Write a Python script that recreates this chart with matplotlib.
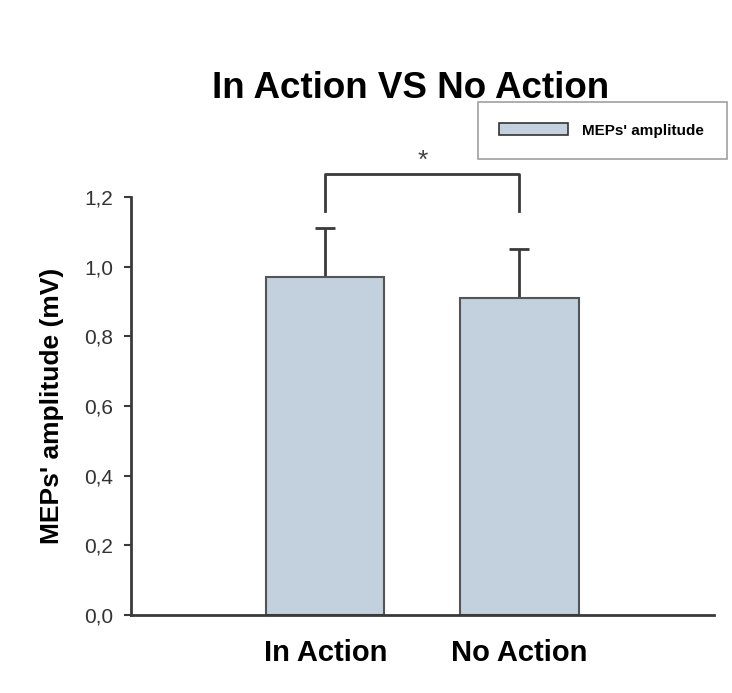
import numpy as np
import matplotlib
matplotlib.use('Agg')
from matplotlib import pyplot as plt
from matplotlib.patches import Patch

# Mean MEP amplitude per condition and its standard error
conditions = ['In Action', 'No Action']
amplitude = [0.97, 0.91]
amplitude_err = [0.14, 0.14]
yticks = [0.0, 0.2, 0.4, 0.6, 0.8, 1.0, 1.2]
sig_y = 1.265   # height of the significance bracket
sig_leg = 1.16  # lower end of the bracket legs

plt.rcParams['font.family'] = ['Liberation Sans', 'DejaVu Sans']
bar_color = '#c2d1dd'
line_color = '#3a3a3a'

fig = plt.figure(figsize=(7.32, 6.93), dpi=100)
ax = fig.add_axes([0.179, 0.1126, 0.796, 0.603])

x = np.arange(len(conditions))
ax.bar(x, amplitude, width=0.61, color=bar_color, edgecolor='#555555', linewidth=1.5, zorder=2)
ax.errorbar(x, amplitude, yerr=[np.zeros(len(amplitude)), amplitude_err], fmt='none',
            ecolor=line_color, elinewidth=2, capsize=7, capthick=2, zorder=1)

ax.set_xlim(-1.0, 2.0)
ax.set_ylim(0, 1.2)
ax.set_yticks(yticks)
ax.set_yticklabels(['{:.1f}'.format(v).replace('.', ',') for v in yticks], fontsize=15, color='#333333')
ax.set_xticks(x)
ax.set_xticklabels(conditions, fontsize=21, fontweight='bold')
ax.tick_params(axis='x', length=0, pad=17)
ax.tick_params(axis='y', direction='out', length=5, width=1.5, color=line_color, pad=8)

for side in ['top', 'right']:
    ax.spines[side].set_visible(False)
for side in ['left', 'bottom']:
    ax.spines[side].set_linewidth(2)
    ax.spines[side].set_color(line_color)

ax.set_ylabel("MEPs' amplitude (mV)", fontsize=19, fontweight='bold', labelpad=14)
ax.set_title('In Action VS No Action', fontsize=26.5, fontweight='bold', x=0.479, y=1.218)

# significance bracket
ax.plot([x[0], x[0], x[1], x[1]], [sig_leg, sig_y, sig_y, sig_leg], color=line_color,
        linewidth=2, clip_on=False)
ax.text((x[0] + x[1]) / 2, sig_y + 0.005, '*', ha='center', va='bottom', fontsize=19, color='#444444')

handle = Patch(facecolor=bar_color, edgecolor='#333333', linewidth=1.2)
leg = fig.legend([handle], ["MEPs' amplitude"], loc='upper left', bbox_to_anchor=(0.653, 0.772, 0.34, 0.081),
                 mode='expand', fancybox=False, edgecolor='#888888', prop={'weight': 'bold', 'size': 11},
                 handlelength=4.5, handleheight=0.85, borderpad=1.4, handletextpad=0.9, borderaxespad=0)
leg.get_frame().set_linewidth(1.2)

fig.savefig('out.png', dpi=100)
